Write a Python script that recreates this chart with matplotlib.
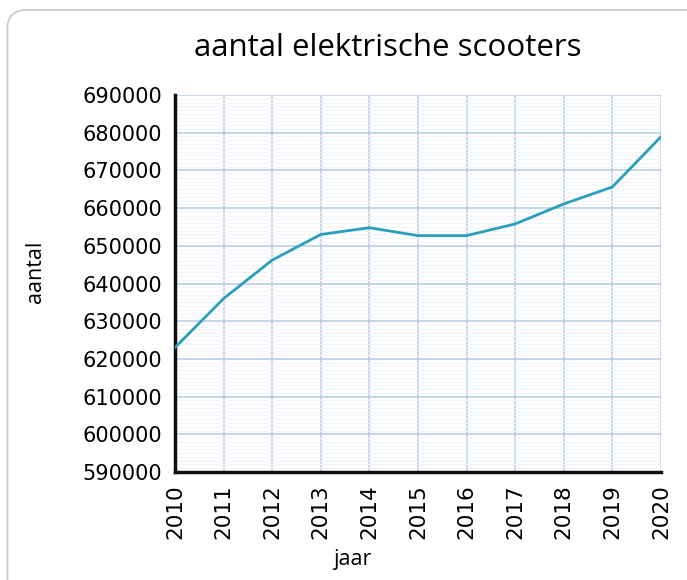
import matplotlib.pyplot as plt
from matplotlib.patches import FancyBboxPatch
from matplotlib.ticker import MultipleLocator

jaren = [2010, 2011, 2012, 2013, 2014, 2015, 2016, 2017, 2018, 2019, 2020]
aantal = [623000, 636000, 646200, 653000, 654800, 652700, 652700, 655800, 661100, 665600, 678900]
yticks = list(range(590000, 690001, 10000))

fig = plt.figure(figsize=(6.87, 5.8), dpi=100)

# rounded frame around the chart
frame = FancyBboxPatch((0.011, -0.05), 1.05, 1.033, boxstyle='round,pad=0,rounding_size=0.03',
                       transform=fig.transFigure, facecolor='none', edgecolor='#c8c8c8', lw=1.2)
fig.patches.append(frame)

ax = fig.add_axes([0.2547, 0.1862, 0.7073, 0.65])
ax.plot(jaren, aantal, color='#2a9fbc', lw=2, zorder=3)

ax.set_xlim(2010, 2020)
ax.set_ylim(590000, 690000)
ax.set_xticks(jaren)
ax.set_yticks(yticks)
ax.yaxis.set_minor_locator(MultipleLocator(1000))
ax.grid(which='major', color='#b7cbe5', lw=1.1)
ax.grid(which='minor', axis='y', color='#f1f4f9', lw=0.8)
ax.set_axisbelow(True)

for s in ['top', 'right']:
    ax.spines[s].set_visible(False)
for s in ['left', 'bottom']:
    ax.spines[s].set_linewidth(2.5)
    ax.spines[s].set_color('#111111')

ax.tick_params(axis='y', which='both', length=0, labelsize=15, pad=9)
ax.tick_params(axis='x', which='both', length=0, labelsize=15.5, rotation=90, pad=9)

fig.text(388 / 687, 1 - 48 / 580, 'aantal elektrische scooters', fontsize=22.5,
         family='Open Sans', ha='center', va='center')
fig.text(36 / 687, 1 - 272 / 580, 'aantal', fontsize=15.5, family='Open Sans',
         rotation=90, ha='center', va='center')
fig.text(352 / 687, 1 - 560 / 580, 'jaar', fontsize=15.5, family='Open Sans',
         ha='center', va='center')

fig.savefig('out.png', dpi=100)
